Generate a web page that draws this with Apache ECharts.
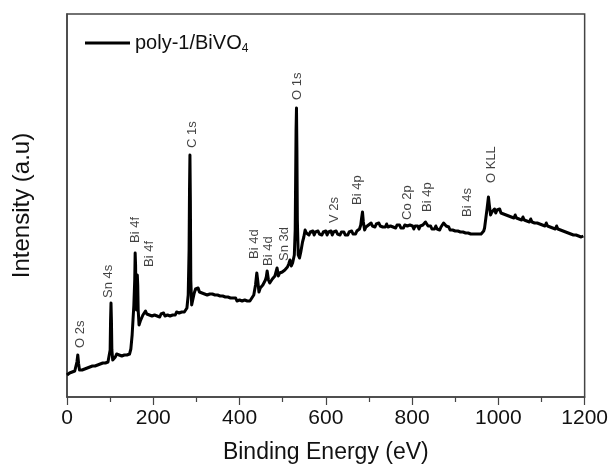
<!DOCTYPE html>
<html>
<head>
<meta charset="utf-8">
<script src="https://cdn.jsdelivr.net/npm/echarts@6/dist/echarts.min.js"></script>
<style>
html,body{margin:0;padding:0;background:#fff;}
#chart{width:611px;height:473px;}
</style>
</head>
<body>
<div id="chart"></div>
<script>
// Survey spectrum: [binding energy (eV), intensity (a.u.)]
var spectrum = [[0,22],[3,21],[6,24],[9,23],[12,25],[15,23],[18,26],[21,27],[23,35],[25,42],[27,33],[29,27],[32,25],[35,27],[38,26],[41,28],[44,27],[47,29],[50,28],[53,30],[56,29],[59,31],[62,30],[65,31],[68,30],[71,32],[74,31],[77,33],[80,32],[83,34],[86,33],[89,34],[92,33],[95,35],[98,36],[100,47],[101,77],[102,94],[103,77],[104,47],[106,37],[109,38],[112,40],[115,43],[118,44],[121,42],[124,43],[127,41],[130,43],[133,42],[136,44],[139,42],[142,44],[145,43],[148,48],[151,62],[153,77],[155,92],[157,117],[158,144],[159,132],[160,97],[161,87],[162,107],[163,122],[164,112],[165,87],[167,72],[170,76],[173,78],[176,82],[179,84],[182,86],[185,83],[188,85],[191,82],[194,84],[197,81],[200,83],[203,82],[206,84],[209,81],[212,83],[215,80],[218,83],[221,82],[224,84],[227,81],[230,83],[233,82],[236,84],[239,81],[242,83],[245,82],[248,84],[251,82],[254,85],[257,83],[260,84],[263,82],[266,85],[269,83],[272,85],[275,86],[278,89],[281,102],[283,147],[284,207],[285,242],[286,197],[287,117],[289,92],[292,98],[295,104],[298,108],[301,106],[304,109],[307,105],[310,106],[313,104],[316,106],[319,103],[322,105],[325,102],[328,104],[331,103],[334,101],[337,103],[340,101],[343,102],[346,100],[349,102],[352,100],[355,101],[358,99],[361,101],[364,99],[367,100],[370,98],[373,100],[376,98],[379,99],[382,97],[385,99],[388,97],[391,99],[394,96],[397,98],[400,97],[403,99],[406,96],[409,98],[412,97],[415,98],[418,96],[421,98],[424,96],[428,98],[433,102],[437,112],[440,124],[442,117],[445,105],[448,109],[451,107],[454,112],[457,110],[460,117],[462,120],[464,126],[467,117],[470,114],[473,116],[476,118],[479,117],[482,121],[485,123],[487,129],[490,121],[493,124],[496,122],[499,125],[502,124],[505,127],[508,126],[511,130],[514,133],[517,137],[520,131],[523,134],[525,133],[527,142],[529,167],[530,217],[531,267],[532,289],[533,247],[534,177],[536,142],[539,139],[542,145],[546,155],[549,160],[552,167],[555,164],[558,166],[561,162],[564,165],[567,163],[570,166],[573,162],[576,165],[579,163],[582,166],[585,163],[588,165],[591,162],[594,165],[597,163],[600,166],[603,162],[606,165],[609,163],[612,166],[615,162],[618,165],[621,163],[624,166],[627,163],[630,165],[633,162],[636,165],[639,163],[642,165],[645,162],[648,164],[651,162],[654,165],[657,163],[660,166],[663,163],[666,165],[669,163],[672,166],[675,166],[678,168],[681,172],[683,179],[685,185],[687,175],[690,167],[693,170],[696,168],[699,172],[702,171],[705,174],[708,171],[711,173],[714,170],[717,173],[720,171],[723,174],[726,171],[729,173],[732,170],[735,172],[738,170],[741,173],[744,170],[747,172],[750,171],[753,173],[756,170],[759,172],[762,169],[765,172],[768,170],[771,172],[774,169],[777,171],[780,169],[783,172],[786,170],[789,171],[792,169],[795,172],[798,170],[801,171],[804,168],[807,171],[810,169],[813,171],[816,168],[819,171],[822,169],[825,172],[828,172],[831,175],[833,177],[835,174],[837,171],[840,169],[843,171],[846,168],[849,170],[852,168],[855,171],[858,168],[861,170],[864,167],[867,170],[870,171],[873,174],[876,176],[879,171],[882,169],[885,170],[888,167],[891,169],[894,167],[897,169],[900,166],[903,168],[906,166],[909,168],[912,165],[915,167],[918,165],[921,167],[924,164],[927,166],[930,164],[933,166],[936,163],[939,165],[942,163],[945,165],[948,163],[951,165],[954,163],[957,165],[960,163],[963,165],[966,166],[968,169],[971,179],[974,189],[977,200],[979,192],[982,182],[985,185],[988,183],[991,188],[994,184],[997,187],[1000,185],[1003,188],[1006,184],[1009,186],[1012,183],[1015,185],[1018,182],[1021,184],[1024,181],[1027,183],[1030,180],[1033,182],[1036,179],[1039,182],[1042,179],[1045,181],[1048,178],[1051,180],[1054,177],[1057,180],[1060,177],[1063,179],[1066,176],[1069,178],[1072,175],[1075,178],[1078,175],[1081,177],[1084,174],[1087,176],[1090,174],[1093,176],[1096,173],[1099,175],[1102,172],[1105,174],[1108,171],[1111,174],[1114,171],[1117,173],[1120,170],[1123,172],[1126,169],[1129,171],[1132,168],[1135,171],[1138,168],[1141,170],[1144,167],[1147,169],[1150,166],[1153,168],[1156,165],[1159,167],[1162,164],[1165,166],[1168,163],[1171,165],[1174,162],[1177,164],[1180,162],[1183,163],[1186,161],[1189,163],[1192,160],[1195,162],[1197,161]];
// Peak annotations: label text, energy position, label base height
var peakNames = ["O 2s","Sn 4s","Bi 4f","Bi 4f","C 1s","O 1s","Bi 4d","Bi 4d","Sn 3d","V 2s","Bi 4p","Co 2p","Bi 4p","Bi 4s","O KLL"];
var peakEnergy = [30,97,158,190,290,535,435,466,505,621,674,790,836,929,984];
var peakLabelY = [49,99,154,130,249,297,138,131,136,174,192,177,185,180,214];
var xTicks = [0,200,400,600,800,1000,1200];
var seriesName = "poly-1/BiVO4";

var annData = peakNames.map(function(n,i){return [peakEnergy[i],peakLabelY[i],n];});

var font = "'Liberation Sans', Arial, sans-serif";
var chart = echarts.init(document.getElementById('chart'));
chart.setOption({
  animation:false,
  backgroundColor:'#ffffff',
  grid:{left:67,right:26,top:14,bottom:76,show:true,borderColor:'#444',borderWidth:1.5,backgroundColor:'transparent'},
  legend:{
    data:[seriesName],
    left:80, top:28,
    icon:'rect', itemWidth:45, itemHeight:3,
    textStyle:{fontFamily:font,fontSize:20,color:'#111',
      rich:{a:{fontFamily:font,fontSize:20,color:'#111'},s:{fontFamily:font,fontSize:12,color:'#111',padding:[12,0,0,0]}}},
    formatter:function(){return '{a|poly-1/BiVO}{s|4}';}
  },
  xAxis:{
    type:'value', min:0, max:1200, interval:200,
    name:'Binding Energy (eV)', nameLocation:'middle', nameGap:44,
    nameTextStyle:{fontFamily:font,fontSize:23,color:'#111'},
    axisLine:{show:true,onZero:false,lineStyle:{color:'#444',width:1.5}},
    axisTick:{show:true,inside:false,length:8,lineStyle:{color:'#444',width:1.2}},
    minorTick:{show:true,splitNumber:2,length:5,lineStyle:{color:'#444',width:1.2}},
    axisLabel:{fontFamily:font,fontSize:21,color:'#111',margin:11,
      customValues:xTicks, formatter:function(v){return String(v);}},
    splitLine:{show:false}
  },
  yAxis:{
    type:'value', min:0, max:383,
    name:'Intensity (a.u)', nameLocation:'middle', nameGap:33,
    nameTextStyle:{fontFamily:font,fontSize:24,color:'#111'},
    axisLine:{show:true,lineStyle:{color:'#444',width:1.5}},
    axisTick:{show:false}, axisLabel:{show:false}, splitLine:{show:false}
  },
  series:[
    {name:seriesName,type:'line',data:spectrum,showSymbol:false,symbol:'none',
     lineStyle:{color:'#000',width:3,join:'round'},itemStyle:{color:'#000'},z:3},
    {name:'labels',type:'scatter',data:annData,symbolSize:0,silent:true,
     label:{show:true,position:'top',distance:0,rotate:90,align:'left',verticalAlign:'middle',
       fontFamily:font,fontSize:13,color:'#111',
       formatter:function(p){return p.value[2];}},z:4}
  ]
});
</script>
</body>
</html>
